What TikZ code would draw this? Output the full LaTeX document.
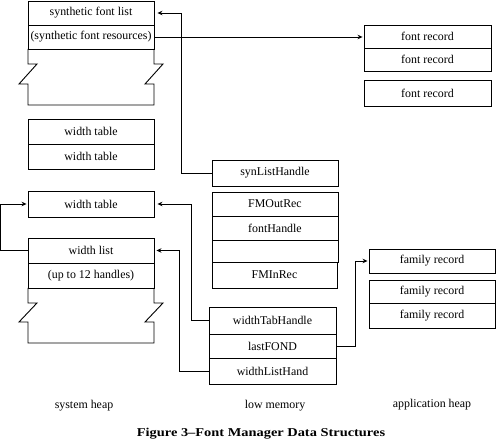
\documentclass[tikz,border=0pt]{standalone}
\usepackage{fontspec}
\usepackage{graphicx}
\setmainfont{Liberation Serif}
\usetikzlibrary{arrows.meta,calc}
\begin{document}
\begin{tikzpicture}[x=1pt,y=-1pt,
  every node/.style={font=\fontsize{11.9}{13}\selectfont},
  cell/.style={draw, line width=0.9pt, inner sep=0pt, minimum width=126pt},
  outline/.style={draw, line width=0.9pt},
  conn/.style={draw, line width=0.9pt, -{Stealth[length=5pt,width=4.5pt]}},
  lbl/.style={inner sep=0pt}]
\useasboundingbox (0,0) rectangle (496,446);
% system heap
\node[cell, minimum height=24pt] (sfl) at (91,13) {synthetic font list};
\node[cell, minimum height=24pt] (sfr) at (91,37) {(synthetic font resources)};
\draw[outline] (28,49) -- (28,64) -- (37,64) -- (19,84) -- (28,84) -- (28,105) -- (154,105) -- (154,84) -- (145,84) -- (163,64) -- (154,64) -- (154,49);
\node[cell, minimum height=25pt] (wta) at (91,131.5) {width table};
\node[cell, minimum height=25pt] (wtb) at (91,156.5) {width table};
\node[cell, minimum height=26pt] (wtc) at (91,204) {width table};
\node[cell, minimum height=25pt] (wl) at (91,250.5) {width list};
\node[cell, minimum height=25pt] (upto) at (91,275.5) {(up to 12 handles)};
\draw[outline] (28,288) -- (28,303) -- (37,303) -- (19,322) -- (28,322) -- (28,343) -- (154,343) -- (154,322) -- (145,322) -- (163,303) -- (154,303) -- (154,288);
% low memory
\node[cell, minimum height=26pt] (syn) at (275,173) {synListHandle};
\node[cell, minimum height=24pt] (fmo) at (275,204) {FMOutRec};
\node[cell, minimum height=24pt] (fh) at (275,228) {fontHandle};
\node[cell, minimum height=22pt] (blank) at (275,251) {};
\node[cell, minimum height=26pt, minimum width=125pt] (fmi) at (274.5,275) {FMInRec};
\node[cell, minimum height=27pt, minimum width=127pt] (wth) at (272.5,320.5) {widthTabHandle};
\node[cell, minimum height=24pt, minimum width=127pt] (lf) at (272.5,346) {lastFOND};
\node[cell, minimum height=26pt, minimum width=127pt] (wlh) at (272.5,371) {widthListHand};
% application heap
\node[cell, minimum height=23pt, minimum width=127pt] (fra) at (427.5,36.5) {font record};
\node[cell, minimum height=23pt, minimum width=127pt] (frb) at (427.5,59.5) {font record};
\node[cell, minimum height=26pt, minimum width=127pt] (frc) at (427.5,93) {font record};
\node[cell, minimum height=24pt] (faa) at (432,261) {family record};
\node[cell, minimum height=23pt] (fab) at (432,291.5) {family record};
\node[cell, minimum height=25pt] (fac) at (432,315.5) {family record};
% connectors
\draw[conn, shorten >=3pt] (syn.west) -- ++(-30,0) |- (sfl.east);
\draw[conn, shorten >=1pt] (sfr.east) -- (sfr.east -| fra.west);
\draw[conn, shorten >=3pt] (wth.west) -- ++(-17,0) |- (wtc.east);
\draw[conn, shorten >=2pt] (wlh.west) -- ++(-29,0) |- (wl.east);
\draw[conn, shorten >=1pt] (wl.west) -- ++(-27,0) |- (wtc.west);
\draw[conn, shorten >=1pt] (lf.east) -- ++(19,0) |- (faa.west);
% labels
\node[lbl] (sh) at (84,406) {system heap};
\node[lbl] (lm) at (275,406) {low memory};
\node[lbl] (ah) at (432,405) {application heap};
\node[lbl, font=\fontsize{12}{14}\selectfont\bfseries] (cap) at (261,434) {\scalebox{1.2}[1]{Figure 3--Font Manager Data Structures}};
\end{tikzpicture}
\end{document}
